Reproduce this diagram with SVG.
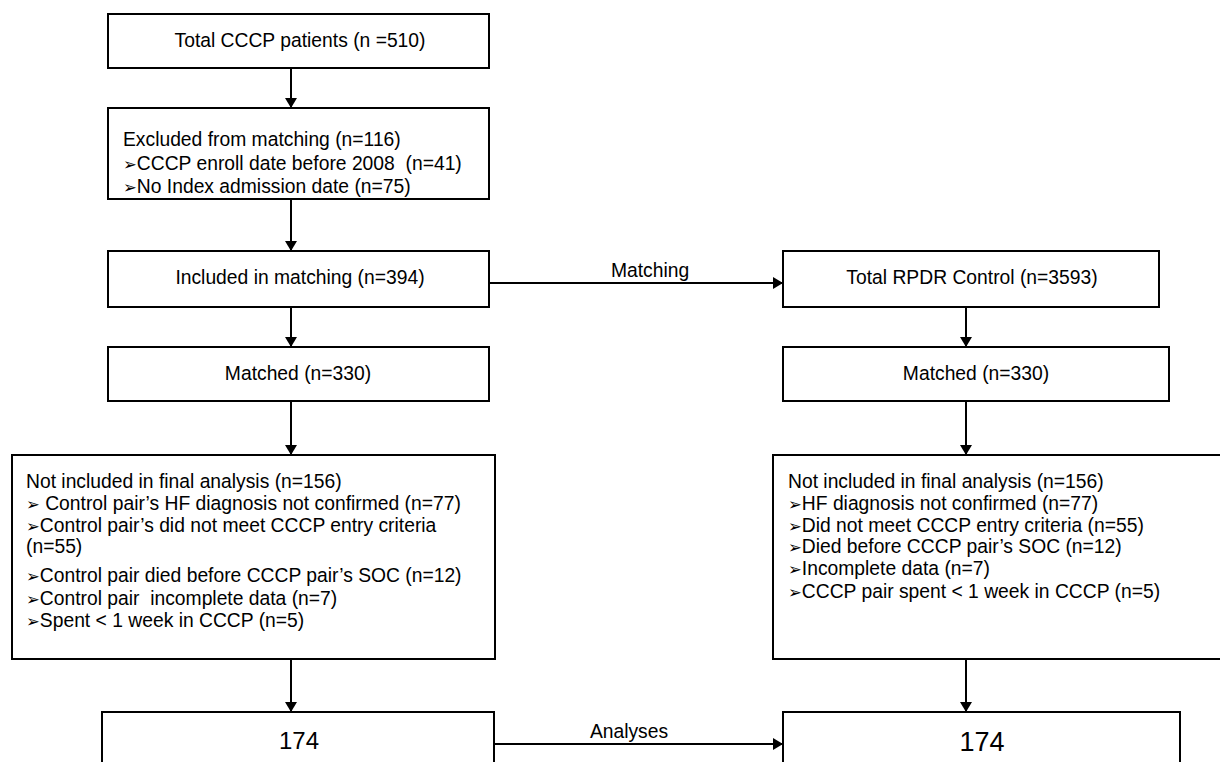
<svg xmlns="http://www.w3.org/2000/svg" width="1220" height="762" viewBox="0 0 1220 762">
<defs>
<style>
.box{fill:#fff;stroke:#000;stroke-width:2}
.t{font-family:"Liberation Sans",Arial,"DejaVu Sans",sans-serif;font-size:19.3px;fill:#000;white-space:pre}
.c{text-anchor:middle}
.big{font-size:24px}
.big2{font-size:27px}
.ar{font-family:"DejaVu Sans",sans-serif;font-size:16.5px}
.conn line{stroke:#000;stroke-width:2;marker-end:url(#ah)}
</style>
<marker id="ah" viewBox="0 0 10 12" refX="10" refY="6" markerWidth="10" markerHeight="12" markerUnits="userSpaceOnUse" orient="auto">
<path d="M0,0 L10,6 L0,12 z" fill="#000"/>
</marker>
</defs>
<rect width="1220" height="762" fill="#fff"/>

<g id="connectors" class="conn">
<line x1="291" y1="68" x2="291" y2="108"/>
<line x1="291" y1="199" x2="291" y2="251"/>
<line x1="291" y1="307" x2="291" y2="347"/>
<line x1="291" y1="401" x2="291" y2="455"/>
<line x1="291" y1="659" x2="291" y2="712"/>
<line x1="489" y1="283" x2="783" y2="283"/>
<line x1="966" y1="307" x2="966" y2="347"/>
<line x1="966" y1="401" x2="966" y2="455"/>
<line x1="966" y1="659" x2="966" y2="712"/>
<line x1="494" y1="744" x2="783" y2="744"/>
<text class="t c" x="650" y="277">Matching</text>
<text class="t c" x="629" y="738">Analyses</text>
</g>

<g id="total-cccp">
<rect class="box" x="108" y="14" width="381" height="54"/>
<text class="t c" x="300" y="47">Total CCCP patients (n =510)</text>
</g>

<g id="excluded">
<rect class="box" x="108" y="108" width="381" height="91"/>
<text class="t" x="123" y="146">Excluded from matching (n=116)</text>
<text class="t" x="123" y="170" xml:space="preserve"><tspan class="ar">➢</tspan>CCCP enroll date before 2008  (n=41)</text>
<text class="t" x="123" y="193"><tspan class="ar">➢</tspan>No Index admission date (n=75)</text>
</g>

<g id="included">
<rect class="box" x="108" y="251" width="381" height="56"/>
<text class="t c" x="300" y="284">Included in matching (n=394)</text>
</g>

<g id="rpdr">
<rect class="box" x="783" y="251" width="376" height="56"/>
<text class="t c" x="972" y="284">Total RPDR Control (n=3593)</text>
</g>

<g id="matched-left">
<rect class="box" x="108" y="347" width="381" height="54"/>
<text class="t c" x="298" y="380">Matched (n=330)</text>
</g>

<g id="matched-right">
<rect class="box" x="783" y="347" width="386" height="54"/>
<text class="t c" x="976" y="380">Matched (n=330)</text>
</g>

<g id="not-included-left">
<rect class="box" x="12" y="455" width="483" height="204"/>
<text class="t" x="26" y="488">Not included in final analysis (n=156)</text>
<text class="t" x="26" y="510" xml:space="preserve"><tspan class="ar">➢</tspan> Control pair’s HF diagnosis not confirmed (n=77)</text>
<text class="t" x="26" y="532"><tspan class="ar">➢</tspan>Control pair’s did not meet CCCP entry criteria</text>
<text class="t" x="26" y="553">(n=55)</text>
<text class="t" x="26" y="582"><tspan class="ar">➢</tspan>Control pair died before CCCP pair’s SOC (n=12)</text>
<text class="t" x="26" y="605" xml:space="preserve"><tspan class="ar">➢</tspan>Control pair  incomplete data (n=7)</text>
<text class="t" x="26" y="627"><tspan class="ar">➢</tspan>Spent &lt; 1 week in CCCP (n=5)</text>
</g>

<g id="not-included-right">
<rect class="box" x="773" y="455" width="460" height="204"/>
<text class="t" x="788" y="488">Not included in final analysis (n=156)</text>
<text class="t" x="788" y="510"><tspan class="ar">➢</tspan>HF diagnosis not confirmed (n=77)</text>
<text class="t" x="788" y="532"><tspan class="ar">➢</tspan>Did not meet CCCP entry criteria (n=55)</text>
<text class="t" x="788" y="553"><tspan class="ar">➢</tspan>Died before CCCP pair’s SOC (n=12)</text>
<text class="t" x="788" y="575"><tspan class="ar">➢</tspan>Incomplete data (n=7)</text>
<text class="t" x="788" y="598"><tspan class="ar">➢</tspan>CCCP pair spent &lt; 1 week in CCCP (n=5)</text>
</g>

<g id="final-left">
<rect class="box" x="102" y="712" width="392" height="80"/>
<text class="t c big" x="299" y="749">174</text>
</g>

<g id="final-right">
<rect class="box" x="783" y="712" width="397" height="80"/>
<text class="t c big2" x="982" y="751">174</text>
</g>
</svg>
